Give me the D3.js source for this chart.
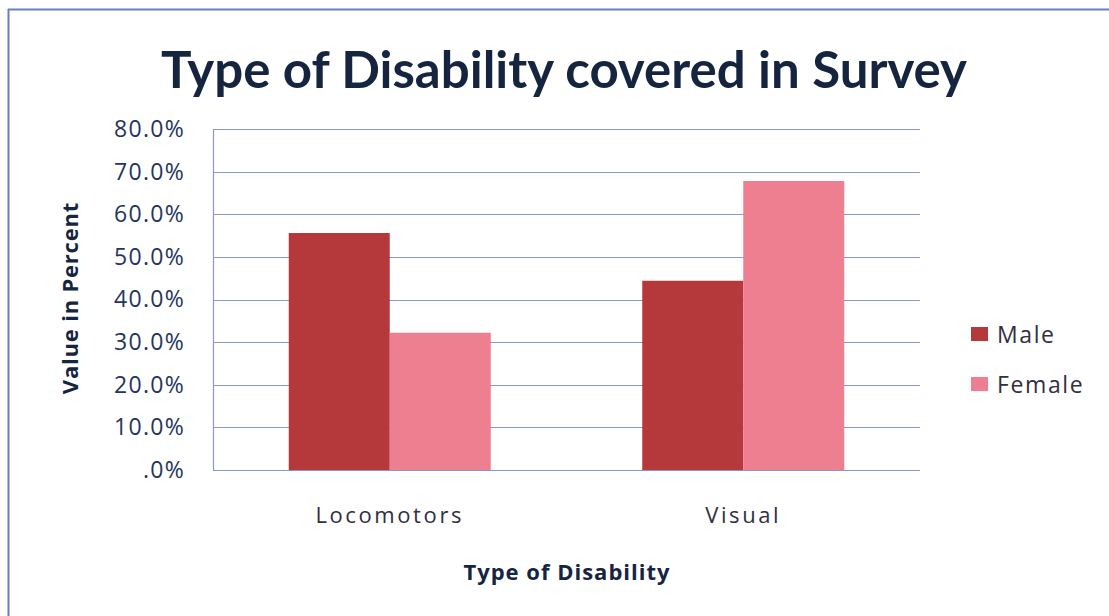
<!DOCTYPE html>
<html><head><meta charset="utf-8">
<script src="https://cdn.jsdelivr.net/npm/d3@7"></script>
<style>body{margin:0;background:#fff}svg{display:block}</style>
</head><body><svg id="c" width="1109" height="616"></svg>
<script>
const categories = ["Locomotors", "Visual"];
const seriesNames = ["Male", "Female"];
const maleValues = [0.556, 0.444];
const femaleValues = [0.322, 0.678];
const yTicks = [0, 0.1, 0.2, 0.3, 0.4, 0.5, 0.6, 0.7, 0.8];
const colors = ["#b5393b", "#ee7f90"];

const svg = d3.select("#c");
const W = 1109, H = 616;
const m = {left: 213, right: 189, top: 129, bottom: 146};
const pw = W - m.left - m.right, ph = H - m.top - m.bottom;

// frame lines
svg.append("line").attr("x1", 8).attr("x2", W).attr("y1", 9.5).attr("y2", 9.5).attr("stroke", "#6a7fc0").attr("stroke-width", 2);
svg.append("line").attr("x1", 8.5).attr("x2", 8.5).attr("y1", 9).attr("y2", H).attr("stroke", "#6a7fc0").attr("stroke-width", 2);

svg.append("text").attr("x", 564).attr("y", 88).attr("text-anchor", "middle")
  .attr("font-family", "Lato, 'Open Sans', sans-serif").attr("font-weight", 700)
  .attr("font-size", 51).attr("fill", "#16253f").text("Type of Disability covered in Survey");

const g = svg.append("g").attr("transform", `translate(${m.left},${m.top})`);
const y = d3.scaleLinear().domain([0, 0.8]).range([ph, 0]);
const x0 = d3.scaleBand().domain(categories).range([0, pw]).padding(0);
const x1 = d3.scaleBand().domain(seriesNames).range([0, x0.bandwidth()]).paddingInner(0).paddingOuter(0.75);

// gridlines
g.append("g").selectAll("line").data(yTicks).join("line")
  .attr("x1", 0).attr("x2", pw).attr("y1", d => Math.round(y(d)) + 0.5).attr("y2", d => Math.round(y(d)) + 0.5)
  .attr("stroke", "#8797d2").attr("stroke-width", 1.2);
g.append("line").attr("x1", 0.5).attr("x2", 0.5).attr("y1", 0).attr("y2", ph).attr("stroke", "#8797d2").attr("stroke-width", 1.2);

// y axis labels
const yAxis = d3.axisLeft(y).tickValues(yTicks).tickSize(0).tickPadding(28)
  .tickFormat(d => d === 0 ? ".0%" : (d * 100).toFixed(1) + "%");
const ya = g.append("g").call(yAxis);
ya.select(".domain").remove();
ya.selectAll("text").attr("font-family", "'Open Sans', sans-serif").attr("font-size", 23)
  .attr("letter-spacing", 1.3).attr("fill", "#263460");

// bars
const data = categories.map((c, i) => ({cat: c, vals: [maleValues[i], femaleValues[i]]}));
const grp = g.selectAll(".grp").data(data).join("g").attr("transform", d => `translate(${x0(d.cat)},0)`);
grp.selectAll("rect").data(d => d.vals.map((v, j) => ({s: seriesNames[j], v, j}))).join("rect")
  .attr("x", d => x1(d.s)).attr("width", x1.bandwidth())
  .attr("y", d => y(d.v)).attr("height", d => ph - y(d.v))
  .attr("fill", d => colors[d.j]);

// x axis labels
const xAxis = d3.axisBottom(x0).tickSize(0).tickPadding(37);
const xa = g.append("g").attr("transform", `translate(0,${ph})`).call(xAxis);
xa.select(".domain").remove();
xa.selectAll("text").attr("font-family", "'Open Sans', sans-serif").attr("font-size", 22)
  .attr("letter-spacing", 2.6).attr("fill", "#303040");

// axis titles
svg.append("text").attr("x", 567).attr("y", 580).attr("text-anchor", "middle")
  .attr("font-family", "'Open Sans', sans-serif").attr("font-weight", 700).attr("font-size", 22)
  .attr("letter-spacing", 1).attr("fill", "#16253f").text("Type of Disability");
svg.append("text").attr("transform", "translate(78,298) rotate(-90)").attr("text-anchor", "middle")
  .attr("font-family", "'Open Sans', sans-serif").attr("font-weight", 700).attr("font-size", 22)
  .attr("letter-spacing", 0.8).attr("fill", "#16253f").text("Value in Percent");

// legend
const lg = svg.append("g").attr("transform", "translate(971,322)");
seriesNames.forEach((s, i) => {
  const row = lg.append("g").attr("transform", `translate(0,${i * 50})`);
  row.append("rect").attr("x", 0).attr("y", 5).attr("width", 17).attr("height", 14).attr("fill", colors[i]);
  row.append("text").attr("x", 26).attr("y", 21).attr("font-family", "'Open Sans', sans-serif")
    .attr("font-size", 23).attr("letter-spacing", 1.6).attr("fill", "#303040").text(s);
});
</script></body></html>
